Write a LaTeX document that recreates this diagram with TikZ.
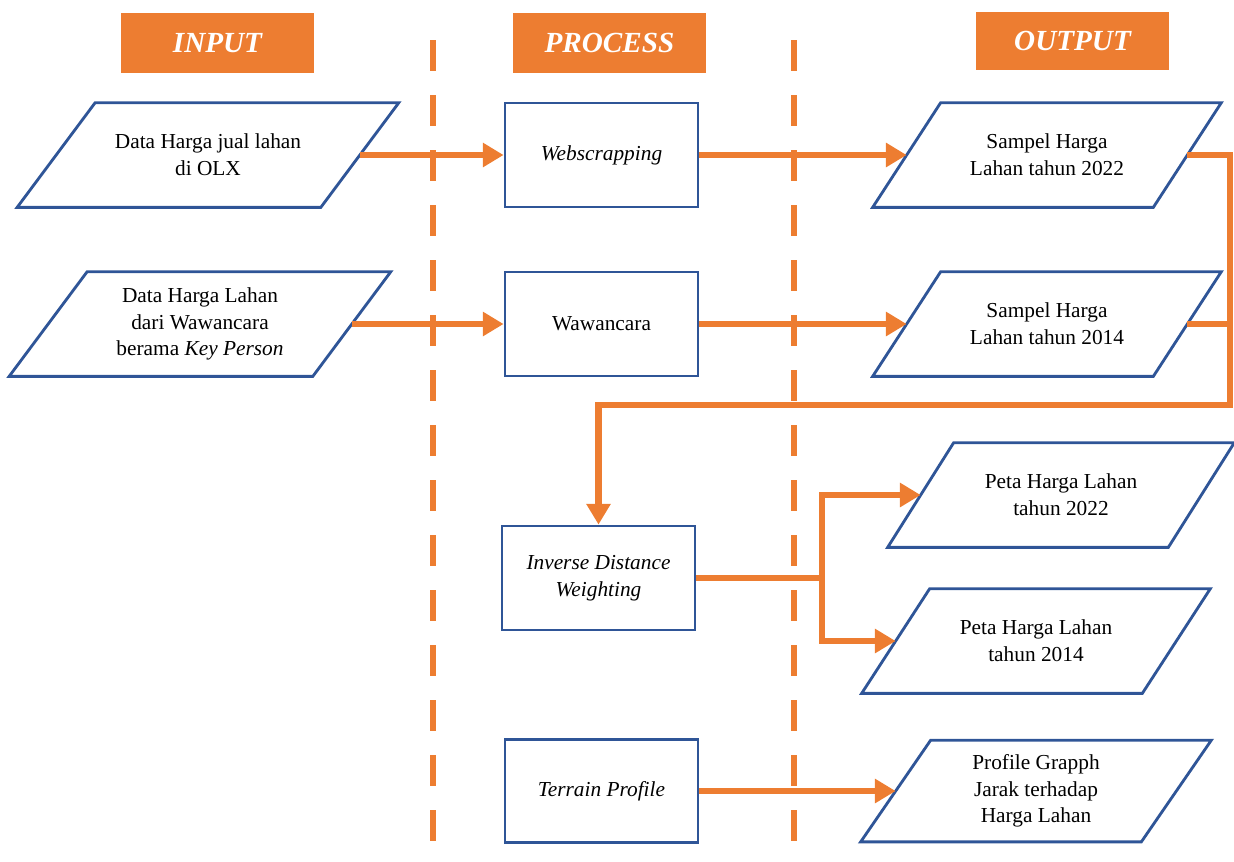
\documentclass[tikz,border=0pt]{standalone}
\usepackage{fontspec}
\setmainfont{Liberation Serif}
\usepackage{xcolor}
\usetikzlibrary{calc, arrows.meta}

\definecolor{orangec}{HTML}{ED7D31}
\definecolor{blueline}{HTML}{2F5597}
\newlength{\pxu}
\setlength{\pxu}{0.6pt}
\newcommand{\boxfont}{\fontsize{12.8}{16}\selectfont}

\begin{document}
\begin{tikzpicture}[
    x=0.6pt, y=-0.6pt,
    hdr/.style={rectangle, fill=orangec, text=white,
                minimum width=193\pxu, minimum height=60\pxu,
                font=\fontsize{17.5}{20}\selectfont\bfseries\itshape},
    procbox/.style={rectangle, draw=blueline, line width=1.7pt,
                minimum width=193\pxu, minimum height=104\pxu, align=center,
                font=\boxfont},
    iobox/.style={rectangle, minimum width=280\pxu, minimum height=104\pxu,
                inner sep=0pt, align=center, font=\boxfont},
    ioline/.style={draw=blueline, line width=1.7pt},
    lane/.style={orangec, line width=3.9pt, dash pattern=on 18.6pt off 14.4pt},
    flowline/.style={orangec, line width=3.9pt},
    flow/.style={flowline, -{Triangle[length=12.5pt, width=14pt]}},
]
\useasboundingbox (0,0) rectangle (1234,861);

% swimlane separators
\draw[lane] (433,40) -- (433,861);
\draw[lane] (794,40) -- (794,861);

\node[hdr] (hin) at (217.5,43) {INPUT};
\node[hdr] (hpro) at (609.5,43) {PROCESS};
\node[hdr, minimum height=58\pxu] (hout) at (1072.5,41) {OUTPUT};

% input
\node[iobox, minimum width=303\pxu] (olx) at (208,155)
    {Data Harga jual lahan\\di OLX};
\node[iobox, minimum width=303\pxu] (kp) at (200,324)
    {Data Harga Lahan\\dari Wawancara\\berama \textit{Key Person}};

% process
\node[procbox] (web) at (601.5,155) {\textit{Webscrapping}};
\node[procbox] (waw) at (601.5,324) {Wawancara};
\node[procbox] (idw) at (598.5,578) {\textit{Inverse Distance}\\\textit{Weighting}};
\node[procbox, minimum height=103\pxu] (ter) at (601.5,791) {\textit{Terrain Profile}};

% output
\node[iobox] (s22) at (1047,155) {Sampel Harga\\Lahan tahun 2022};
\node[iobox] (s14) at (1047,324) {Sampel Harga\\Lahan tahun 2014};
\node[iobox] (p22) at (1061,495) {Peta Harga Lahan\\tahun 2022};
\node[iobox] (p14) at (1036,641) {Peta Harga Lahan\\tahun 2014};
\node[iobox, minimum height=101\pxu] (prof) at (1036,791)
    {Profile Grapph\\Jarak terhadap\\Harga Lahan};

% data shapes
\foreach \n/\s in {olx/78, kp/78, s22/68, s14/68, p22/66, p14/68, prof/70}
    \draw[ioline] ($(\n.north west)+(\s/2,0)$) -- ($(\n.north east)+(\s/2,0)$)
        -- ($(\n.south east)+(-\s/2,0)$) -- ($(\n.south west)+(-\s/2,0)$) -- cycle;

\coordinate (bus) at (1230,405);
\coordinate (split) at (822,578);

\draw[flow] (olx.east) -- (web.west);
\draw[flow] (kp.east) -- (waw.west);
\draw[flow] (web.east) -- (s22.west);
\draw[flow] (waw.east) -- (s14.west);
\draw[flow] (s22.east) -| (bus) -| (idw.north);
\draw[flowline] (s14.east) -- (s14.east -| bus);
\draw[flowline] (idw.east) -- (split);
\draw[flow] (split) |- (p22.west);
\draw[flow] (split) |- (p14.west);
\draw[flow] (ter.east) -- (prof.west);
\end{tikzpicture}
\end{document}
